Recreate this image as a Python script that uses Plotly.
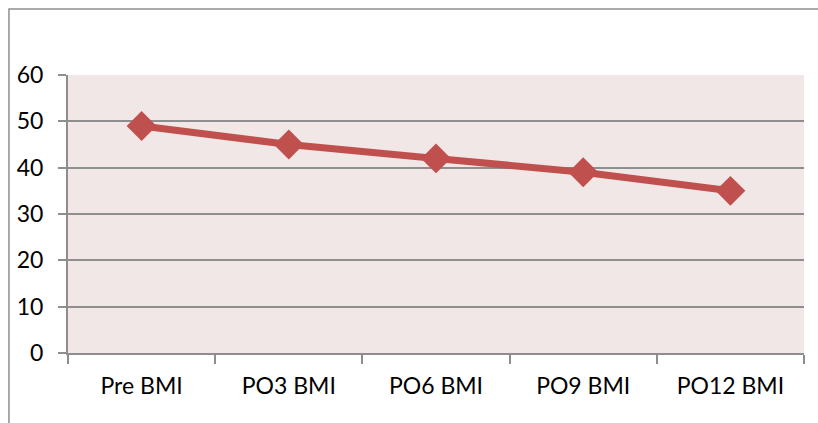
import plotly.graph_objects as go

categories = ["Pre BMI", "PO3 BMI", "PO6 BMI", "PO9 BMI", "PO12 BMI"]
bmi_values = [49, 45, 42, 39, 35]
y_ticks = [0, 10, 20, 30, 40, 50, 60]

fig = go.Figure()
fig.add_trace(go.Scatter(
    x=categories, y=bmi_values, mode="lines+markers",
    line=dict(color="#C0504D", width=7),
    marker=dict(symbol="diamond", size=23, color="#C0504D"),
    showlegend=False,
))

grid = "#8E8E8E"
fig.update_layout(
    width=818, height=423,
    margin=dict(l=68, r=14, t=75, b=70),
    paper_bgcolor="white",
    plot_bgcolor="#F2E7E7",
    font=dict(family="Lato, Carlito, sans-serif", size=23, color="black"),
    xaxis=dict(
        type="category", range=[-0.5, 4.5], tickson="boundaries",
        ticks="outside", ticklen=9, tickcolor=grid, tickwidth=2,
        showline=True, linecolor=grid, linewidth=2,
        showgrid=False, zeroline=False, ticklabelstandoff=11,
    ),
    yaxis=dict(
        range=[0, 60], tickvals=y_ticks, ticks="outside", ticklen=8,
        tickcolor=grid, tickwidth=2, ticklabelstandoff=10,
        showline=True, linecolor=grid, linewidth=2,
        showgrid=True, gridcolor=grid, gridwidth=2, zeroline=False,
    ),
    shapes=[dict(
        type="rect", xref="paper", yref="paper",
        x0=-0.0802, x1=1.2, y0=-0.3, y1=1.2374,
        line=dict(color="#8E8E8E", width=1.5), layer="below",
    )],
)
fig.write_html("out.html", config={"displayModeBar": False},
               post_script="document.body.style.margin='0';")
